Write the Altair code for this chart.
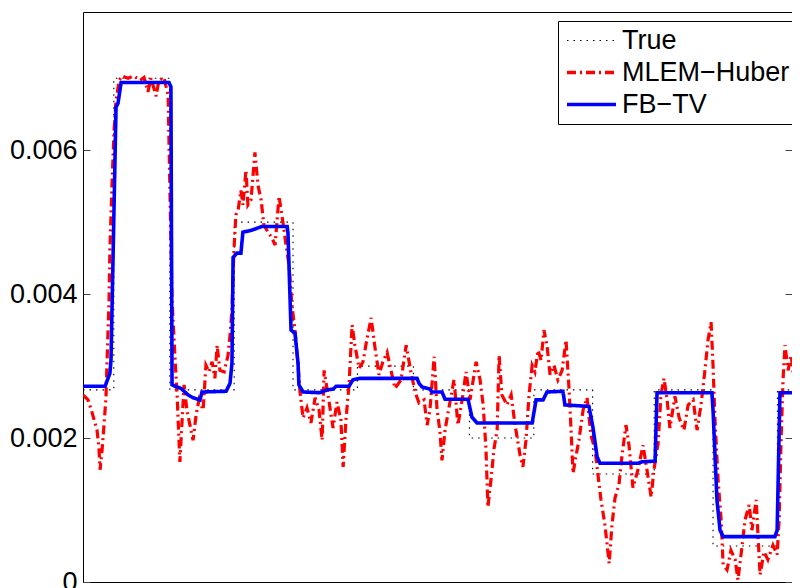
import altair as alt
import pandas as pd

SERIES = ["True", "MLEM\u2212Huber", "FB\u2212TV"]
COLORS = ["#000000", "#ff0000", "#0000ff"]
DASHES = [[1.5, 5], [9, 4, 2, 4], [1, 0]]

# ---- True signal (piecewise constant, step-after) ----
true_x = [0, 11, 31, 54, 75, 98, 118, 138, 161, 182, 204, 225, 248, 256]
true_y = [0.00267, 0.0070, 0.00267, 0.0050, 0.00267, 0.0030, 0.00267,
          0.0020, 0.00267, 0.0015, 0.00267, 0.0005, 0.00267, 0.00267]

# ---- FB-TV reconstruction (values in units of 1e-3) ----
fb_x = [0, 7.9, 9.6, 10.0, 11.8, 12.5, 13.6, 30.7, 31.4, 31.8,
        32.9, 35.0, 37.5, 39.3, 41.8, 42.5, 51.1, 52.5, 53.2, 53.6,
        55.0, 56.4, 57.1, 60.4, 62.5, 63.9, 72.9, 73.2, 74.3, 75.7,
        76.8, 77.1, 78.6, 84.6, 87.1, 89.3, 90.4, 95.0, 96.4, 98.9,
        119.3, 120.0, 121.1, 123.9, 124.6, 128.2, 129.3, 137.5, 138.9, 140.7,
        160.4, 161.8, 164.3, 165.7, 171.4, 172.1, 180.7, 182.1, 183.6, 184.6,
        198.2, 199.6, 204.3, 205.0, 224.6, 225.0, 226.4, 227.5, 228.6, 247.1,
        247.9, 248.9, 256.0]
fb_y = [2.72, 2.72, 2.90, 3.08, 6.60, 6.65, 6.94, 6.94, 6.88, 2.74,
        2.72, 2.69, 2.60, 2.56, 2.53, 2.64, 2.65, 2.76, 3.04, 4.51,
        4.57, 4.57, 4.86, 4.89, 4.92, 4.94, 4.94, 4.85, 3.50, 3.46,
        3.04, 2.74, 2.64, 2.63, 2.67, 2.68, 2.72, 2.72, 2.81, 2.83,
        2.83, 2.76, 2.71, 2.68, 2.64, 2.64, 2.54, 2.54, 2.29, 2.21,
        2.21, 2.53, 2.53, 2.64, 2.65, 2.46, 2.44, 2.15, 1.74, 1.65,
        1.65, 1.67, 1.68, 2.63, 2.63, 2.39, 1.14, 0.72, 0.63, 0.63,
        0.72, 2.63, 2.63]

# ---- MLEM-Huber reconstruction (values in units of 1e-3) ----
mlem_x = [0.0, 1.8, 3.2, 5.0, 5.7, 6.1, 6.8, 7.5, 8.2, 8.6,
          9.3, 9.6, 10.4, 11.1, 11.8, 12.9, 13.9, 16.1, 18.2, 20.4,
          21.8, 23.2, 24.3, 26.1, 27.1, 28.9, 30.4, 31.1, 31.8, 32.9,
          33.6, 34.6, 35.4, 36.1, 37.1, 38.2, 39.3, 40.4, 41.4, 42.9,
          43.9, 45.0, 46.1, 47.1, 47.9, 48.9, 50.4, 51.8, 52.5, 53.2,
          53.9, 54.6, 55.4, 56.4, 57.1, 58.2, 58.9, 60.0, 61.4, 62.5,
          63.6, 64.6, 66.1, 67.5, 68.6, 70.0, 71.4, 72.5, 73.6, 74.6,
          75.7, 76.8, 77.5, 78.6, 80.0, 81.4, 82.9, 84.3, 85.4, 86.1,
          87.5, 89.3, 90.7, 92.1, 92.9, 93.9, 95.0, 96.1, 97.1, 98.6,
          100.0, 101.1, 102.9, 104.3, 105.7, 107.1, 108.6, 110.0, 111.4, 113.6,
          115.4, 117.1, 118.6, 120.0, 121.8, 122.9, 123.9, 125.4, 126.4, 127.5,
          128.2, 129.3, 130.4, 132.5, 133.9, 135.4, 136.8, 138.2, 140.4, 141.8,
          142.9, 143.9, 144.6, 145.7, 146.8, 147.9, 148.6, 149.6, 151.4, 152.9,
          154.3, 156.1, 157.1, 158.2, 159.3, 160.4, 161.4, 162.5, 163.6, 164.6,
          165.7, 166.8, 168.2, 169.6, 171.1, 172.5, 173.6, 174.3, 175.0, 176.1,
          177.1, 178.6, 180.0, 181.4, 182.9, 183.9, 185.0, 186.4, 187.9, 188.9,
          190.0, 191.4, 192.5, 193.9, 195.0, 196.4, 198.2, 200.0, 201.4, 202.9,
          203.9, 205.4, 206.4, 207.5, 208.6, 209.6, 211.4, 212.9, 214.6, 216.1,
          217.9, 219.3, 220.7, 222.1, 223.2, 224.3, 225.0, 225.7, 226.8, 227.9,
          228.6, 230.0, 231.4, 232.9, 233.9, 235.4, 236.4, 237.9, 238.9, 240.4,
          241.8, 243.2, 244.6, 246.4, 247.9, 248.6, 249.3, 250.0, 250.7, 251.8,
          252.9, 253.9, 255.0, 256.0]
mlem_y = [2.60, 2.53, 2.36, 2.11, 1.86, 1.56, 1.83, 2.18, 2.56, 3.08,
          3.92, 4.61, 5.58, 6.28, 6.69, 6.97, 7.03, 7.00, 7.03, 6.97,
          7.01, 6.81, 7.00, 6.75, 6.97, 7.01, 6.76, 5.31, 3.92, 3.08,
          2.60, 1.67, 2.25, 2.74, 2.39, 2.18, 1.97, 2.32, 2.53, 2.39,
          3.01, 2.92, 3.06, 2.83, 3.29, 2.94, 2.92, 3.15, 3.43, 3.78,
          4.61, 5.10, 5.17, 5.44, 5.24, 5.72, 5.24, 5.31, 5.97, 5.51,
          5.31, 4.96, 4.86, 4.78, 4.68, 5.36, 5.00, 4.68, 4.40, 3.85,
          3.50, 3.01, 2.64, 2.28, 2.42, 2.21, 2.56, 2.39, 1.97, 2.94,
          2.60, 2.14, 2.50, 2.25, 1.60, 2.25, 2.74, 3.57, 3.29, 2.97,
          3.06, 3.31, 3.67, 3.25, 2.88, 3.06, 3.19, 2.94, 2.69, 2.81,
          3.29, 2.92, 2.64, 2.49, 2.53, 2.18, 2.39, 3.13, 2.42, 2.08,
          1.69, 2.11, 2.36, 2.81, 2.18, 2.53, 2.92, 2.53, 3.06, 2.81,
          2.46, 1.86, 1.04, 1.42, 1.86, 2.11, 3.15, 2.60, 2.46, 2.60,
          2.18, 1.76, 1.60, 1.97, 2.60, 3.01, 2.92, 3.22, 3.08, 3.50,
          3.29, 2.88, 3.01, 2.81, 2.94, 3.36, 2.67, 2.11, 1.51, 1.76,
          1.97, 2.39, 2.56, 2.04, 1.83, 1.49, 1.14, 0.79, 0.26, 0.79,
          1.17, 1.35, 1.76, 2.18, 1.90, 1.31, 1.56, 1.90, 1.56, 1.18,
          1.56, 1.93, 2.60, 2.83, 2.53, 2.14, 2.58, 2.28, 2.11, 2.46,
          2.53, 2.11, 2.46, 2.94, 3.36, 3.61, 3.01, 2.25, 1.42, 0.86,
          0.24, 0.17, 0.44, 0.31, 0.03, 0.51, 0.86, 1.07, 0.72, 1.14,
          0.10, 0.42, 0.31, 0.51, 0.38, 0.86, 1.97, 2.81, 3.29, 2.94,
          3.15, 2.81, 3.36, 2.94]

y_ticks = [0, 0.002, 0.004, 0.006]
X_DOMAIN = [0, 253.2]   # visible part of the sample axis
Y_DOMAIN = [0, 0.00792]

df_true = pd.DataFrame({"x": true_x, "y": true_y, "series": SERIES[0]})
df_mlem = pd.DataFrame({"x": mlem_x, "y": [v * 1e-3 for v in mlem_y], "series": SERIES[1]})
df_fb = pd.DataFrame({"x": fb_x, "y": [v * 1e-3 for v in fb_y], "series": SERIES[2]})

FONT = "Liberation Sans"
x_scale = alt.Scale(domain=X_DOMAIN, nice=False, zero=False)
y_scale = alt.Scale(domain=Y_DOMAIN, nice=False, zero=False)

legend = alt.Legend(
    title=None, orient="none", legendX=475, legendY=9,
    symbolType="M-2,0H2", symbolSize=600, symbolOffset=14, labelOffset=17,
    labelFont=FONT, labelFontSize=27, labelColor="black", labelLimit=400,
    padding=6, rowPadding=4, strokeColor="black", fillColor="white",
    cornerRadius=0, symbolFillColor="transparent",
    symbolStrokeWidth=alt.ExprRef("datum.value === 'True' ? 1.2 : 3.3"),
)

color_enc = alt.Color("series:N", scale=alt.Scale(domain=SERIES, range=COLORS), legend=legend)
dash_enc = alt.StrokeDash("series:N", scale=alt.Scale(domain=SERIES, range=DASHES), legend=legend)

# axes: left ticks+labels (inward ticks), left frame, right inward ticks, top/bottom frame
left_ticks = alt.Axis(
    orient="left", values=y_ticks, grid=False, domain=False, offset=-7,
    tickSize=7, tickColor="#444", labelPadding=6, labelFont=FONT,
    labelFontSize=27, labelColor="black", title=None,
    labelExpr="datum.value == 0 ? '0' : format(datum.value, '.3f')",
)
left_frame = alt.Axis(
    orient="left", grid=False, domain=True, domainColor="black", domainWidth=1,
    ticks=False, labels=False, title=None,
)
right_ticks = alt.Axis(
    orient="right", values=y_ticks, grid=False, domain=False, offset=-7,
    tickSize=7, tickColor="#444", labels=False, title=None,
)
bottom_frame = alt.Axis(
    orient="bottom", grid=False, domain=True, domainColor="black", domainWidth=1,
    ticks=False, labels=False, title=None,
)
top_frame = alt.Axis(
    orient="top", grid=False, domain=True, domainColor="black", domainWidth=1,
    ticks=False, labels=False, title=None,
)

true_layer = alt.Chart(df_true).mark_line(
    interpolate="step-after", clip=True, strokeWidth=1.1
).encode(
    x=alt.X("x:Q", scale=x_scale, axis=bottom_frame),
    y=alt.Y("y:Q", scale=y_scale, axis=left_ticks),
    color=color_enc, strokeDash=dash_enc,
)
mlem_layer = alt.Chart(df_mlem).mark_line(clip=True, strokeWidth=3.2).encode(
    x=alt.X("x:Q", scale=x_scale, axis=top_frame),
    y=alt.Y("y:Q", scale=y_scale, axis=left_frame),
    color=color_enc, strokeDash=dash_enc,
)
fb_layer = alt.Chart(df_fb).mark_line(clip=True, strokeWidth=3.6).encode(
    x=alt.X("x:Q", scale=x_scale, axis=None),
    y=alt.Y("y:Q", scale=y_scale, axis=right_ticks),
    color=color_enc, strokeDash=dash_enc,
)

chart = alt.layer(true_layer, mlem_layer, fb_layer).resolve_axis(
    x="independent", y="independent"
).properties(
    width=709, height=570,
    autosize=alt.AutoSizeParams(type="none"),
    padding={"left": 75, "top": 4, "right": 0, "bottom": 6},
    background="white",
).configure_view(stroke=None)

chart.save("out.html", embed_options={"renderer": "svg", "actions": False})
